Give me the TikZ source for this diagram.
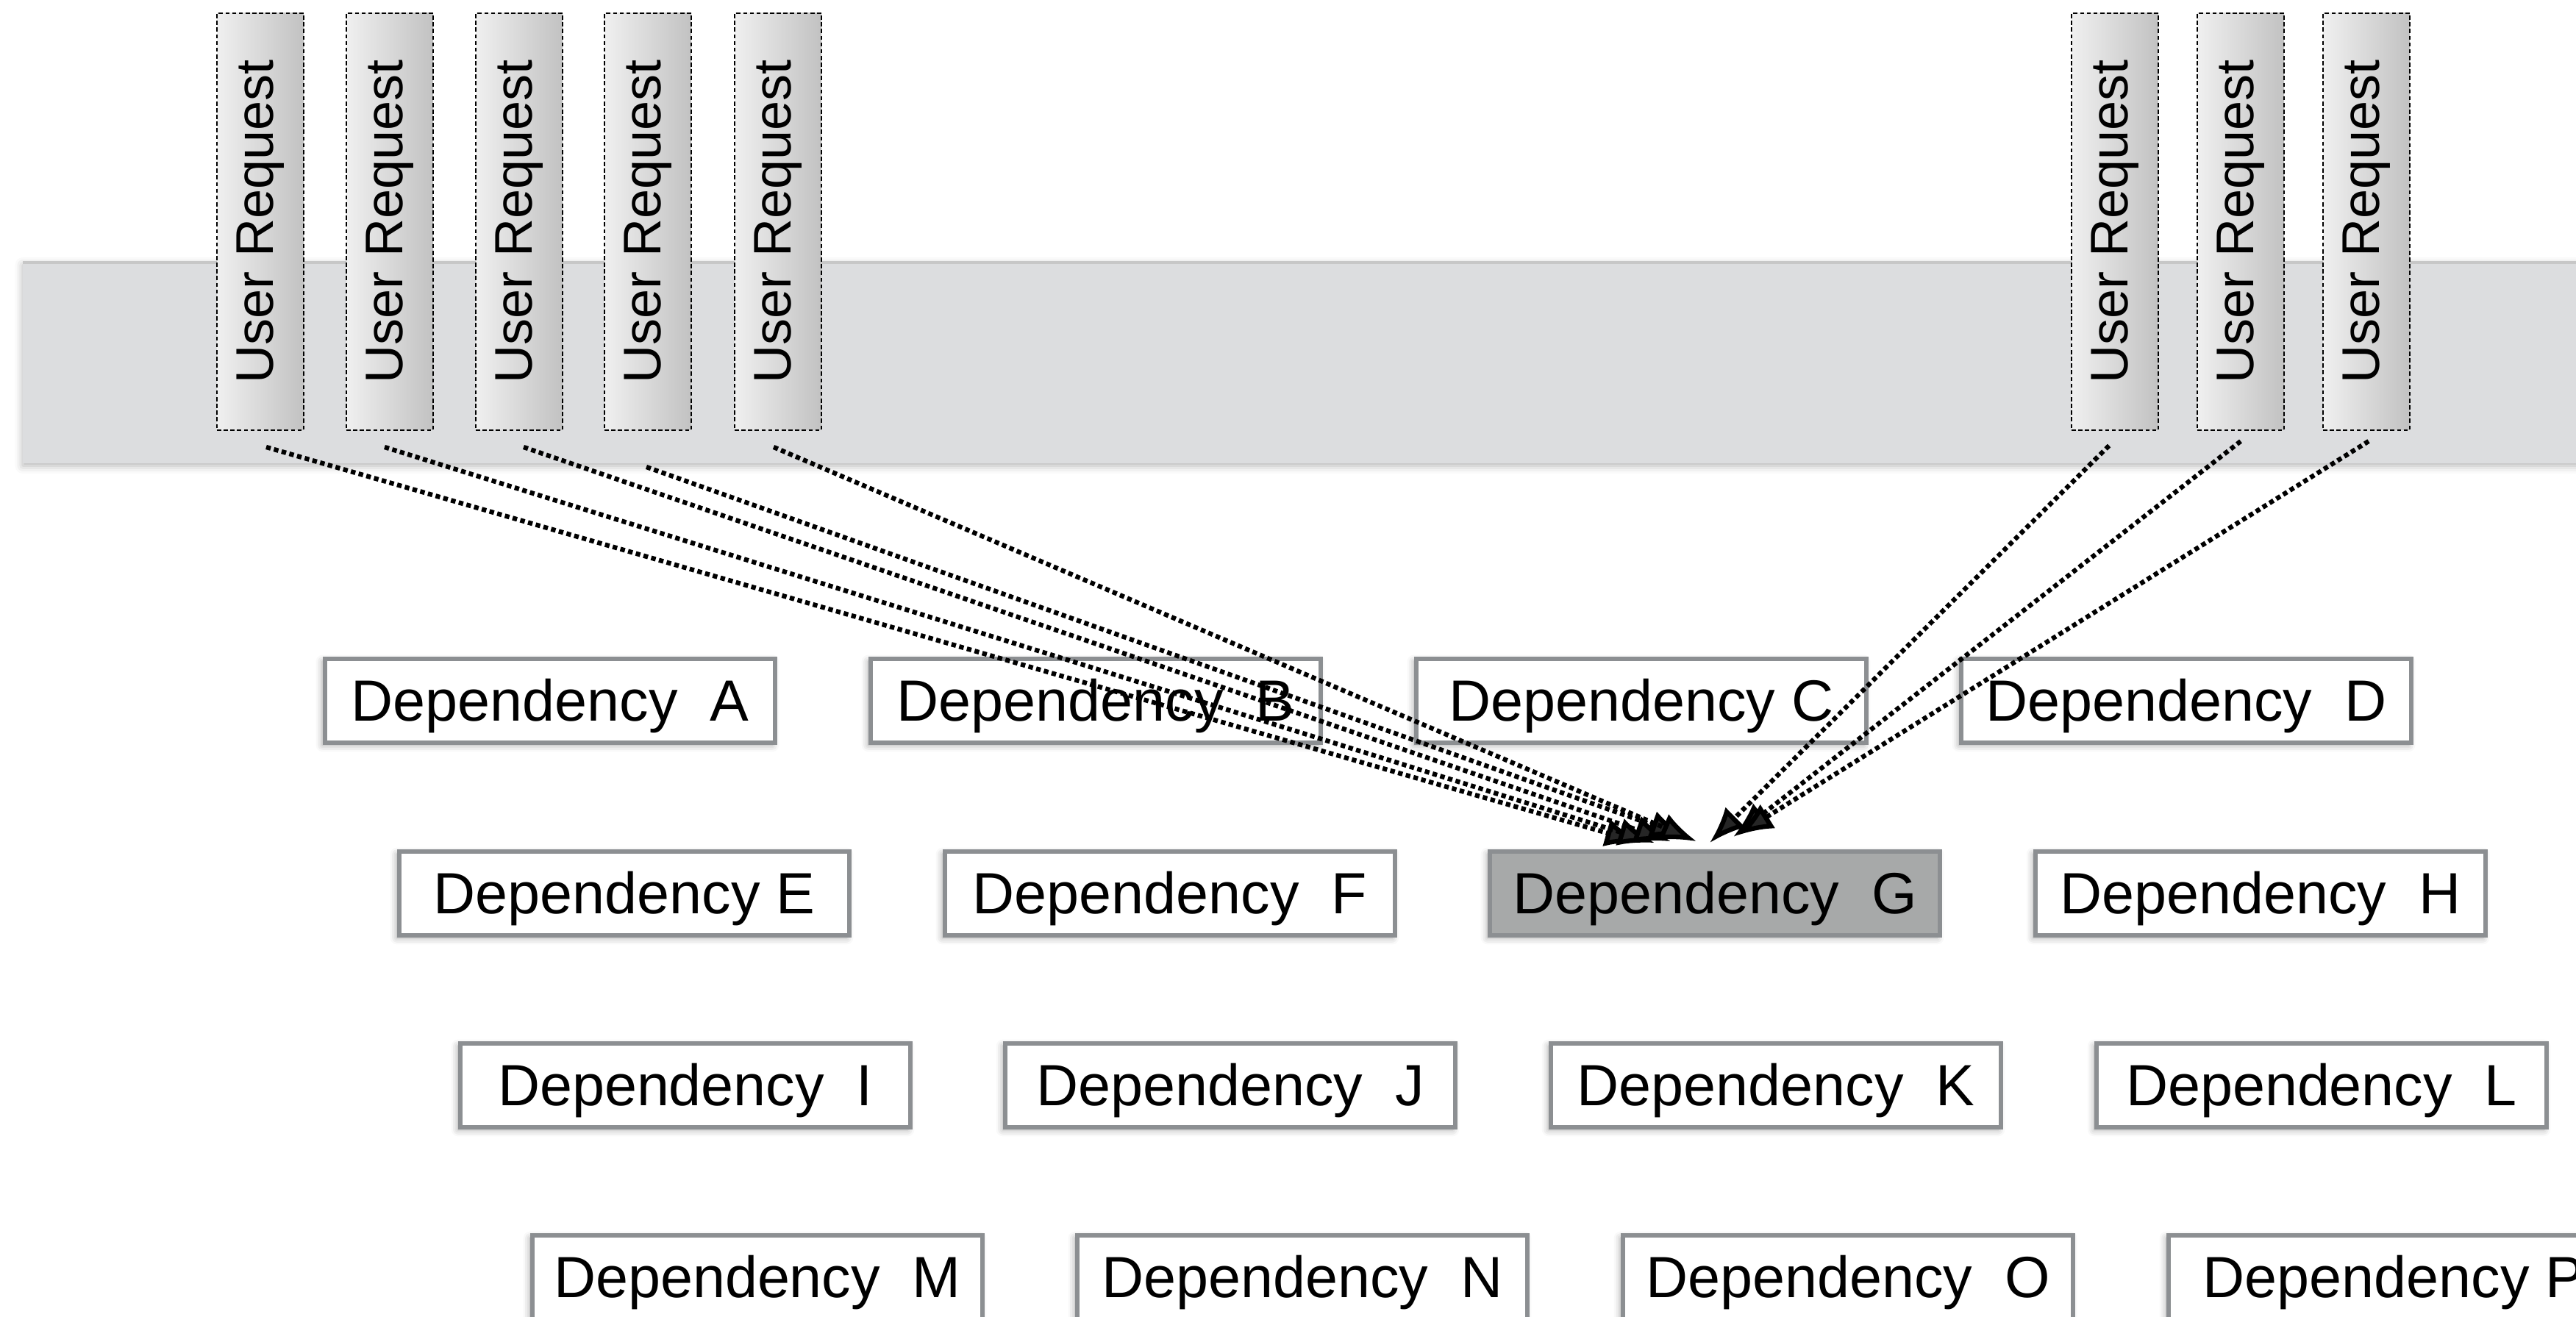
\documentclass[tikz,border=0pt]{standalone}
\usepackage{fontspec}
\setmainfont{Liberation Sans}
\usetikzlibrary{arrows.meta,shadows.blur}

\definecolor{bandgray}{HTML}{DCDDDF}
\definecolor{boxline}{HTML}{8C8F92}
\definecolor{hotfill}{HTML}{A7A9A9}

\tikzset{
    request/.style={draw=black, dash pattern=on 1.6pt off 1pt, line width=0.6pt,
        left color=white!94!black, right color=black!24,
        minimum width=1.18cm, minimum height=5.67cm, inner sep=0pt,
        font=\fontsize{20.5}{24}\selectfont},
    depbox/.style={draw=boxline, line width=1.6pt, fill=white,
        minimum width=6.12cm, minimum height=1.14cm, inner sep=0pt,
        text height=20.2pt, text depth=4.5pt,
        font=\fontsize{22.5}{26}\selectfont,
        blur shadow={shadow xshift=-1pt, shadow yshift=-1pt, shadow blur radius=2.5pt, shadow opacity=35}},
    reqline/.style={line width=1.8pt, dash pattern=on 1.8pt off 1.3pt,
        -{Latex[length=14pt,width=11pt]}},
}

\begin{document}
\begin{tikzpicture}
    \useasboundingbox (0,0) rectangle (35.03,17.91);

    % Band
    \fill[bandgray, blur shadow={shadow xshift=0pt, shadow yshift=-1pt, shadow blur radius=3pt, shadow opacity=30}]
        (0.31,11.61) rectangle (36,14.34);
    \draw[black!22, line width=1pt] (0.31,14.34) -- (36,14.34);

    % User requests
    \node[request] (r1) at (3.54,14.895) {\rotatebox{90}{User Request}};
    \node[request] (r2) at (5.30,14.895) {\rotatebox{90}{User Request}};
    \node[request] (r3) at (7.06,14.895) {\rotatebox{90}{User Request}};
    \node[request] (r4) at (8.81,14.895) {\rotatebox{90}{User Request}};
    \node[request] (r5) at (10.58,14.895) {\rotatebox{90}{User Request}};
    \node[request] (r6) at (28.76,14.895) {\rotatebox{90}{User Request}};
    \node[request] (r7) at (30.47,14.895) {\rotatebox{90}{User Request}};
    \node[request] (r8) at (32.18,14.895) {\rotatebox{90}{User Request}};

    % Dependencies
    \node[depbox] (A) at (7.48,8.38)  {Dependency~~A};
    \node[depbox] (B) at (14.90,8.38) {Dependency~~B};
    \node[depbox] (C) at (22.32,8.38) {Dependency C};
    \node[depbox] (D) at (29.73,8.38) {Dependency~~D};

    \node[depbox] (E) at (8.49,5.76)  {Dependency E};
    \node[depbox] (F) at (15.91,5.76) {Dependency~~F};
    \node[depbox, fill=hotfill] (G) at (23.32,5.76) {Dependency~~G};
    \node[depbox] (H) at (30.74,5.76) {Dependency~~H};

    \node[depbox] (I) at (9.32,3.15)  {Dependency~~I};
    \node[depbox] (J) at (16.73,3.15) {Dependency~~J};
    \node[depbox] (K) at (24.15,3.15) {Dependency~~K};
    \node[depbox] (L) at (31.57,3.15) {Dependency~~L};

    \node[depbox] (M) at (10.30,0.54) {Dependency~~M};
    \node[depbox] (N) at (17.71,0.54) {Dependency~~N};
    \node[depbox] (O) at (25.13,0.54) {Dependency~~O};
    \node[depbox] (P) at (32.55,0.54) {Dependency P};

    % Requests hitting G
    \draw[reqline] ([xshift=0.08cm, yshift=-0.22cm]r1.south) -- ([xshift=-1.00cm, yshift=0.09cm]G.north);
    \draw[reqline] ([xshift=-0.07cm, yshift=-0.22cm]r2.south) -- ([xshift=-0.82cm, yshift=0.09cm]G.north);
    \draw[reqline] ([xshift=0.06cm, yshift=-0.22cm]r3.south) -- ([xshift=-0.60cm, yshift=0.11cm]G.north);
    \draw[reqline] ([xshift=-0.02cm, yshift=-0.49cm]r4.south) -- ([xshift=-0.39cm, yshift=0.17cm]G.north);
    \draw[reqline] ([xshift=-0.06cm, yshift=-0.22cm]r5.south) -- ([xshift=-0.25cm, yshift=0.11cm]G.north);
    \draw[reqline] ([xshift=-0.08cm, yshift=-0.20cm]r6.south) -- ([xshift=-0.07cm, yshift=0.09cm]G.north);
    \draw[reqline] ([xshift=0.00cm, yshift=-0.14cm]r7.south) -- ([xshift=0.25cm, yshift=0.17cm]G.north);
    \draw[reqline] ([xshift=0.03cm, yshift=-0.14cm]r8.south) -- ([xshift=0.30cm, yshift=0.19cm]G.north);
\end{tikzpicture}
\end{document}
